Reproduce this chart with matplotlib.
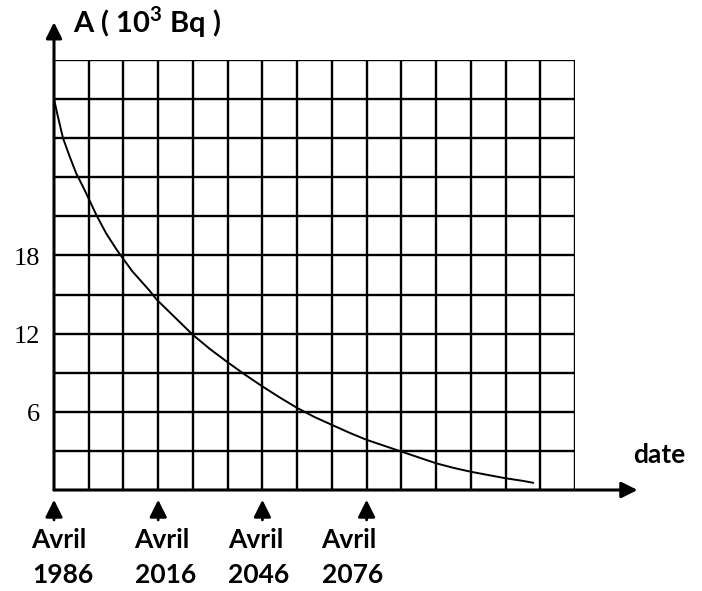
import numpy as np
import matplotlib
matplotlib.use('Agg')
from matplotlib import pyplot as plt

# values (years after april 1986, activity in 10^3 Bq)
t_years = [0, 1, 2.6, 4.5, 6.4, 8.3, 10.1, 12.2, 15, 17.9, 19.5, 22.5, 25,
           27.5, 29.6, 35, 40, 45, 50, 55, 60, 65, 70, 75, 80, 85, 90, 95,
           100, 105, 110, 115, 120, 125, 130, 135, 138]
activity = [30.0, 28.8, 27.0, 25.6, 24.3, 23.3, 22.3, 21.1, 19.7, 18.5, 17.9,
            16.8, 16.05, 15.3, 14.6, 13.2, 11.9, 10.8, 9.8, 8.85, 7.95, 7.1,
            6.3, 5.6, 5.0, 4.4, 3.85, 3.4, 2.95, 2.5, 2.05, 1.7, 1.4, 1.15,
            0.9, 0.7, 0.55]

y_ticks = [6, 12, 18]
date_marks = [1986, 2016, 2046, 2076]
date_labels = ['1986', '2016', '2046', '2076']

x_cells = np.arange(1986, 2137, 10)
y_cells = np.arange(0, 34, 3)

plt.rcParams['mathtext.fontset'] = 'custom'
plt.rcParams['mathtext.bf'] = 'Lato:bold'
plt.rcParams['mathtext.rm'] = 'Lato:bold'

fig = plt.figure(figsize=(7.02, 5.91), dpi=100)
ax = fig.add_axes([54 / 702, 101 / 591, 521 / 702, 430 / 591])
ax.set_xlim(1986, 2136)
ax.set_ylim(0, 33)
ax.axis('off')

# grid
ax.vlines(x_cells[1:], 0, 33, colors='k', lw=1.7)
ax.hlines(y_cells[1:], 1986, 2136, colors='k', lw=1.7)

# axes with arrows
ax.annotate('', xy=(1986, 35.9), xytext=(1986, 0),
            arrowprops=dict(arrowstyle='-|>', mutation_scale=24, lw=2.2,
                            color='k', shrinkA=0, shrinkB=0),
            annotation_clip=False)
ax.annotate('', xy=(2154, 0), xytext=(1986, 0),
            arrowprops=dict(arrowstyle='-|>', mutation_scale=24, lw=2.2,
                            color='k', shrinkA=0, shrinkB=0),
            annotation_clip=False)

ax.plot(1986 + np.array(t_years), activity, color='k', lw=1.4,
        solid_capstyle='round', solid_joinstyle='round')

# y labels
for v in y_ticks:
    ax.text(1982, v - 0.7, str(v), ha='right', va='baseline',
            family='Liberation Serif', fontsize=19, clip_on=False)

# date markers
label_shift = [1.5, 1, -2, -5]
for yr, lab, dx in zip(date_marks, date_labels, label_shift):
    ax.annotate('', xy=(yr, -0.75), xytext=(yr, -2.3),
                arrowprops=dict(arrowstyle='-|>', mutation_scale=26, lw=2,
                                color='k', shrinkA=0, shrinkB=0),
                annotation_clip=False)
    ax.text(yr + dx, -4.45, 'Avril', ha='center', va='baseline',
            family='Lato', weight='bold', fontsize=19, clip_on=False)
    ax.text(yr + dx + 1, -7.14, lab, ha='center', va='baseline',
            family='Lato', weight='bold', fontsize=19, clip_on=False)

ax.text(1991.5, 35.07, r'A ( 10$^{\mathbf{3}}$ Bq )', ha='left', va='baseline',
        family='Lato', weight='bold', fontsize=21, clip_on=False)
ax.text(2152.7, 2.07, 'date', ha='left', va='baseline',
        family='Lato', weight='bold', fontsize=19, clip_on=False)

fig.savefig('out.png', dpi=100, facecolor='white')
